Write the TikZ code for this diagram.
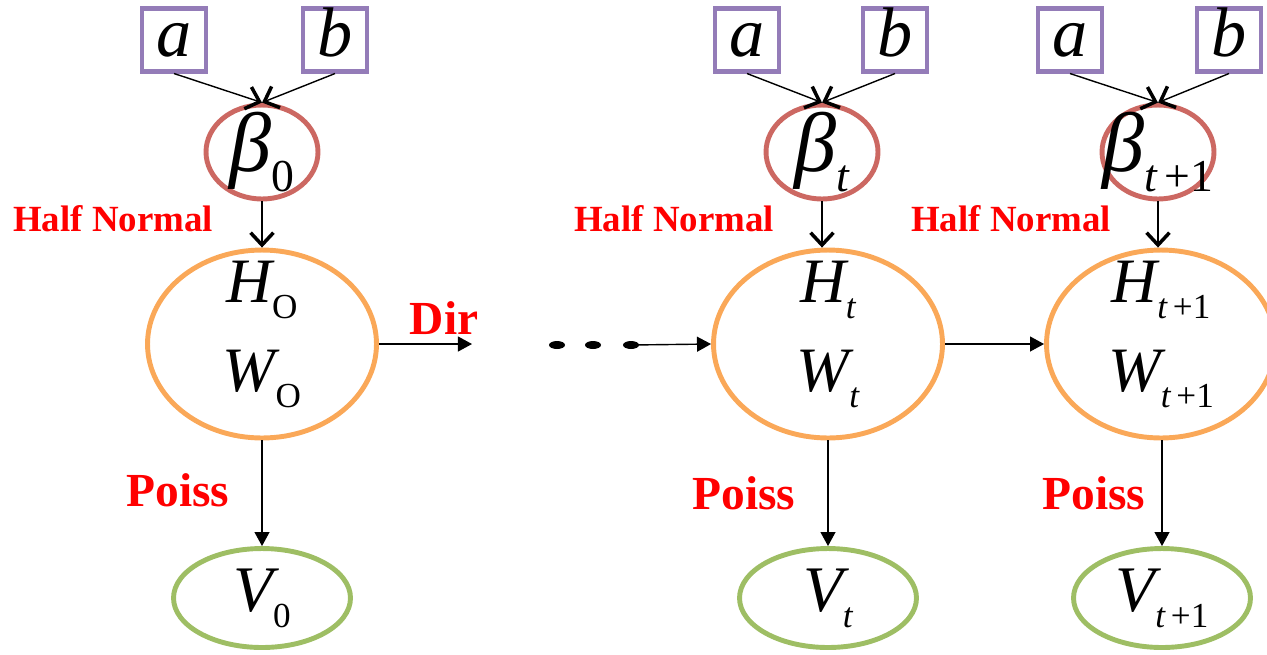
\documentclass[tikz,border=0pt]{standalone}
\usepackage{fontspec}
\setmainfont{Liberation Serif}
\usepackage{tikz}
\usetikzlibrary{shapes.geometric, arrows.meta}
\usepackage{xcolor}

\definecolor{boxpurple}{RGB}{148,124,184}
\definecolor{betared}{RGB}{204,104,98}
\definecolor{hworange}{RGB}{250,168,88}
\definecolor{vgreen}{RGB}{158,190,100}
\definecolor{labred}{RGB}{255,0,0}

% lowered subscripts
\newcommand{\lsub}[1]{\raisebox{-9pt}{\fontsize{20}{20}\selectfont #1}}
\newcommand{\bsub}[1]{\raisebox{-11pt}{\fontsize{26}{26}\selectfont #1}}

\begin{document}
\begin{tikzpicture}[x=0.02cm, y=-0.02cm,
	hyper/.style={rectangle, draw=boxpurple, line width=2.3pt, minimum width=1.28cm, minimum height=1.26cm, inner sep=0pt, text height=27pt, text depth=8.5pt, font=\fontsize{40}{40}\selectfont\itshape},
	betanode/.style={ellipse, draw=betared, line width=2.8pt, minimum width=2.24cm, minimum height=1.88cm, inner sep=-12pt, font=\fontsize{48}{48}\selectfont\itshape},
	hwnode/.style={ellipse, draw=hworange, line width=2.8pt, minimum width=4.58cm, minimum height=3.76cm, inner sep=-20pt, align=center, font=\fontsize{36}{51}\selectfont\itshape},
	vnode/.style={ellipse, draw=vgreen, line width=2.8pt, minimum width=3.54cm, minimum height=1.98cm, inner sep=-10pt, font=\fontsize{37}{37}\selectfont\itshape},
	lab/.style={text=labred, inner sep=0pt, font=\bfseries\fontsize{21}{21}\selectfont},
	biglab/.style={text=labred, inner sep=0pt, font=\bfseries\fontsize{27}{27}\selectfont},
	dot/.style={ellipse, fill=black, minimum width=0.32cm, minimum height=0.16cm, inner sep=0pt},
	barb/.style={line width=0.8pt, -{Straight Barb[length=7pt, width=13pt, line width=2pt]}},
	tri/.style={line width=0.8pt, -{Triangle[length=8pt, width=8.5pt]}}]
	\useasboundingbox (0,0) rectangle (1267,654);

	% first slice
	\node[hyper] (a0) at (174,40) {a};
	\node[hyper] (b0) at (335,40) {b};
	\node[betanode] (beta0) at (262,152) {β\bsub{\upshape 0}};
	\node[hwnode] (hw0) at (262,344) {H\lsub{\upshape O}\\W\lsub{\upshape O}\rule[-20pt]{0pt}{0pt}};
	\node[vnode] (v0) at (262,598) {V\lsub{\upshape 0}};

	% slice t
	\node[hyper] (at) at (747,40) {a};
	\node[hyper] (bt) at (895,40) {b};
	\node[betanode] (betat) at (822,152) {β\bsub{t}};
	\node[hwnode] (hwt) at (828,344) {H\lsub{t}\\W\lsub{t}\rule[-20pt]{0pt}{0pt}};
	\node[vnode] (vt) at (828,598) {V\lsub{t}};

	% slice t+1
	\node[hyper] (an) at (1070,40) {a};
	\node[hyper] (bn) at (1229,40) {b};
	\node[betanode] (betan) at (1158,152) {β\bsub{t\,\upshape+1}};
	\node[hwnode] (hwn) at (1161,344) {H\lsub{t\,\upshape+1}\\W\lsub{t\,\upshape+1}\rule[-20pt]{0pt}{0pt}};
	\node[vnode] (vn) at (1162,598) {V\lsub{t\,\upshape+1}};

	% labels
	\node[lab] (hn0) at (113,219) {Half Normal};
	\node[lab] (hnt) at (674,219) {Half Normal};
	\node[lab] (hnn) at (1011,219) {Half Normal};
	\node[biglab] (ps0) at (178,490) {Poiss};
	\node[biglab] (pst) at (744,493) {Poiss};
	\node[biglab] (psn) at (1094,493) {Poiss};
	\node[biglab] (dir) at (444,318) {Dir};

	% dots
	\foreach \x [count=\i] in {557,593,631}
		\node[dot] (d\i) at (\x,345) {};

	\draw[barb] (a0.south) -- (beta0.north);
	\draw[barb] (b0.south) -- (beta0.north);
	\draw[barb] (at.south) -- (betat.north);
	\draw[barb] (bt.south) -- (betat.north);
	\draw[barb] (an.south) -- (betan.north);
	\draw[barb] (bn.south) -- (betan.north);

	\draw[barb] (beta0.south) -- (hw0.north);
	\draw[barb] (betat.south) -- (betat.south |- hwt.north);
	\draw[barb] (betan.south) -- (betan.south |- hwn.north);

	\draw[tri] (hw0.south) -- (v0.north);
	\draw[tri] (hwt.south) -- (vt.north);
	\draw[tri] (vn.north |- hwn.south) -- (vn.north);

	\coordinate (dirend) at (472,344);
	\draw[tri] (hw0.east) -- (dirend);
	\draw[tri] (d3.center) -- (hwt.west);
	\draw[tri] (hwt.east) -- (hwn.west);
\end{tikzpicture}
\end{document}
